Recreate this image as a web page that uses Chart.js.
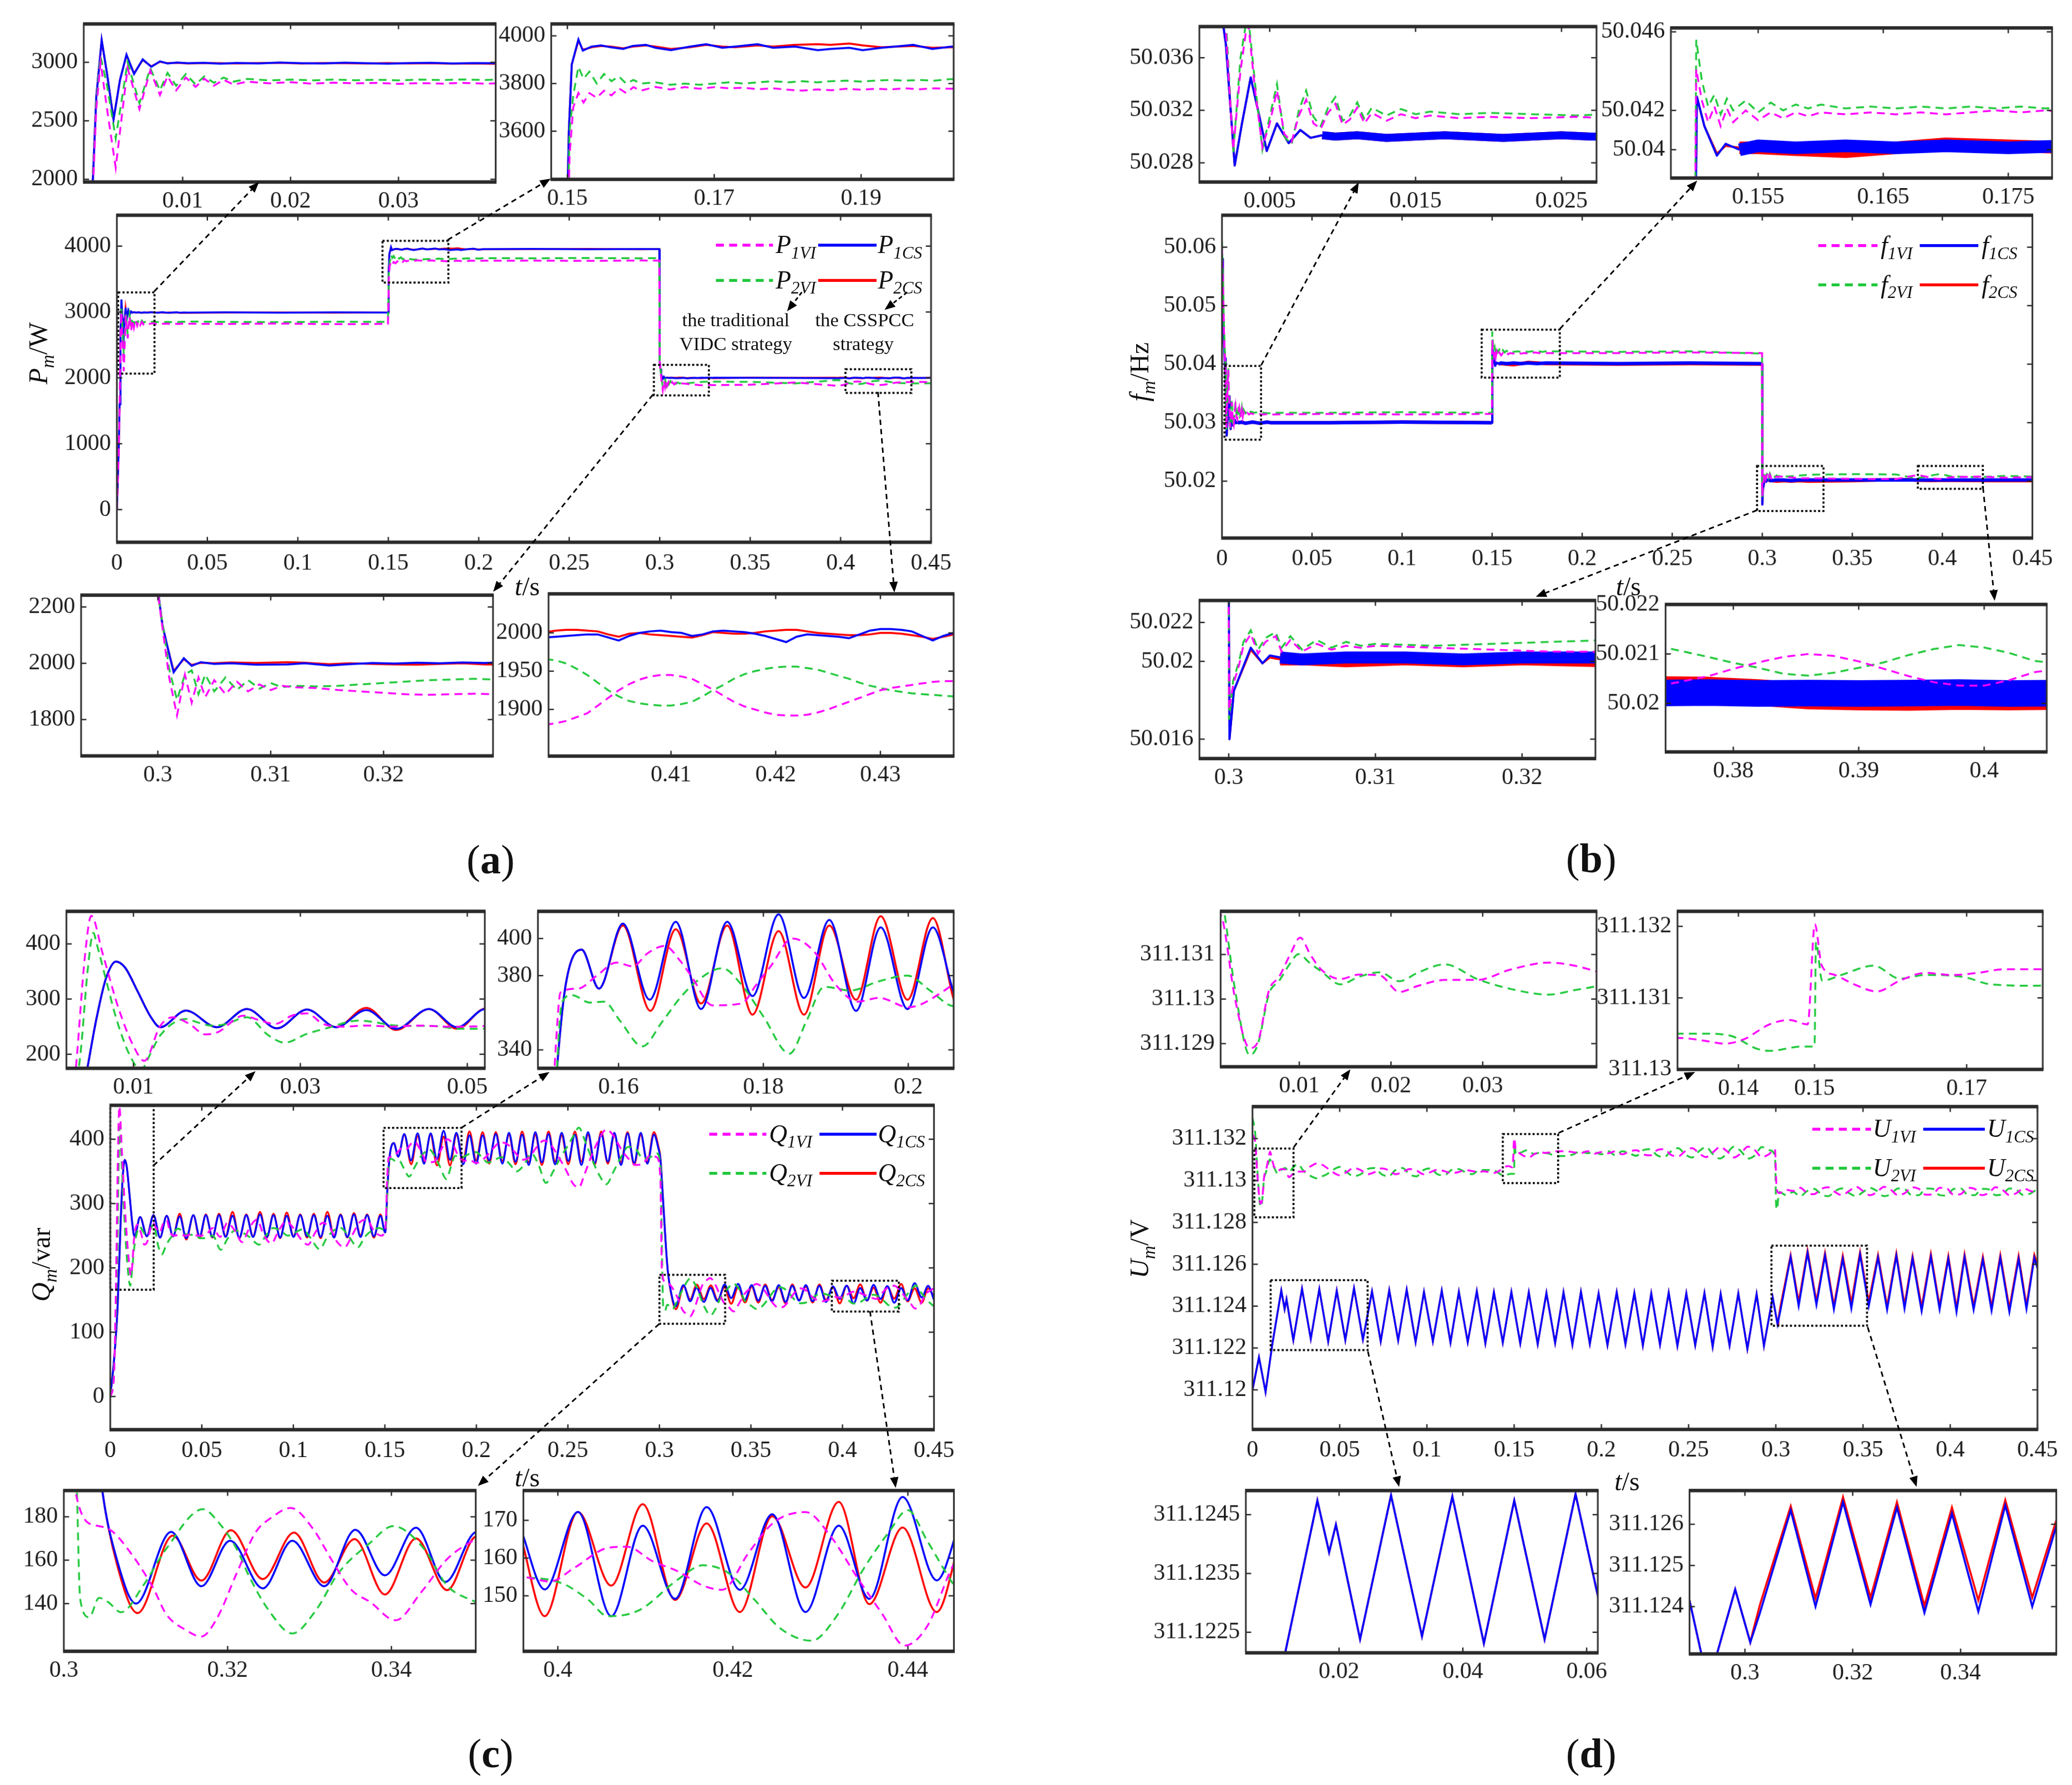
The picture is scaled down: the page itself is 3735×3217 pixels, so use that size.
<!DOCTYPE html>
<html><head><meta charset="utf-8">
<script src="https://cdn.jsdelivr.net/npm/chart.js@4.4.1/dist/chart.umd.min.js"></script>
<style>
html,body{margin:0;padding:0;background:#fff;}
body{width:3735px;height:3217px;overflow:hidden;position:relative;}
#wrap{position:absolute;left:0;top:0;width:1560px;height:1344px;transform-origin:0 0;transform:scale(2.3942);font-family:'Liberation Serif','Times New Roman',serif;color:#111;}
#wrap canvas{position:absolute;}
.ttl{position:absolute;white-space:nowrap;font-size:20px;line-height:1;transform:translate(-50%,-50%);}
.ytl{position:absolute;white-space:nowrap;font-size:20px;line-height:1;transform:translate(-50%,-50%) rotate(-90deg);}
.cap{position:absolute;font-size:31px;line-height:1;transform:translate(-50%,-50%);}
#ov{position:absolute;left:0;top:0;}
</style></head><body><div id="wrap"></div>
<script>
// ---------------- tick labels ----------------
const aXMain=['0','0.05','0.1','0.15','0.2','0.25','0.3','0.35','0.4','0.45'];
const aYMain=['0','1000','2000','3000','4000'];
const aX1=['0.01','0.02','0.03'], aY1=['2000','2500','3000'];
const aX2=['0.15','0.17','0.19'], aY2=['3600','3800','4000'];
const aX3=['0.3','0.31','0.32'], aY3=['1800','2000','2200'];
const aX4=['0.41','0.42','0.43'], aY4=['1900','1950','2000'];
const bYMain=['50.02','50.03','50.04','50.05','50.06'];
const bX1=['0.005','0.015','0.025'], bY1=['50.028','50.032','50.036'];
const bX2=['0.155','0.165','0.175'], bY2=['50.04','50.042','50.046'];
const bX3=['0.3','0.31','0.32'], bY3=['50.016','50.02','50.022'];
const bX4=['0.38','0.39','0.4'], bY4=['50.02','50.021','50.022'];
const cYMain=['0','100','200','300','400'];
const cX1=['0.01','0.03','0.05'], cY1=['200','300','400'];
const cX2=['0.16','0.18','0.2'], cY2=['340','380','400'];
const cX3=['0.3','0.32','0.34'], cY3=['140','160','180'];
const cX4=['0.4','0.42','0.44'], cY4=['150','160','170'];
const dYMain=['311.12','311.122','311.124','311.126','311.128','311.13','311.132'];
const dX1=['0.01','0.02','0.03'], dY1=['311.129','311.13','311.131'];
const dX2=['0.14','0.15','0.17'], dY2=['311.13','311.131','311.132'];
const dX3=['0.02','0.04','0.06'], dY3=['311.1225','311.1235','311.1245'];
const dX4=['0.3','0.32','0.34'], dY4=['311.124','311.125','311.126'];

// ---------------- data: [time in ms, value] ----------------
// (a) active power P (W)
const aP1CS=[[0,0],[1,900],[1.5,1600],[2,2700],[2.5,3190],[3,2900],[3.6,2510],[4.2,2850],[4.8,3065],[5.5,2900],[6.3,3025],[7.1,2962],[7.9,3008],[8.6,2990],[9.5,2998],[10.5,2992],[12,2996],[13.5,2988],[15,2995],[17,2990],[19,2998],[21,2992],[23,2990],[25,2997],[27,2992],[29,2988],[31,2994],[33,2996],[35,2990],[37,2994],[39,2992],
[60,2996],[90,2990],[120,2995],[149.8,2992],
[150.2,3600],[150.6,3880],[151.5,3985],[152.1,3938],[153.3,3955],[154.6,3960],[155.9,3952],[157.6,3945],[158.9,3958],[160.7,3962],[162,3950],[164.1,3940],[166.7,3955],[168.9,3965],[171.1,3950],[172.8,3955],[175.9,3965],[178,3950],[181,3955],[184.1,3940],[185.8,3945],[188.4,3950],[190.2,3940],[192.8,3950],[197.1,3962],[199.7,3945],[202.3,3955],
[230,3958],[260,3952],[290,3956],[299.8,3955],
[300,2260],[300.4,2138],[300.8,2067],[301.4,1968],[302.3,2018],[303,1991],[303.8,2004],[305,1998],[306.5,2000],[308.7,1995],[311.5,1996],[313,2000],[315.2,1992],[317,1997],[319,2001],[321,1999],[323,2002],[325,2000],[327,2003],[329,2001],[330,2003],
[350,2000],[375,1998],[397,1995],
[398,1994],[399,1995],[400,1996],[401,1997],[402,1998],[403,1998],[404,1994],[405,1990],[406,1996],[407,2000],[408,2002],[409,2003],[410,2001],[411,2000],[412,1996],[413,1998],[414,2002],[415,2003],[416,2002],[417,2001],[418,1999],[419,1996],[420,1992],[421,1988],[422,1995],[423,1998],[424,1997],[425,1996],[426,1995],[427,1993],[428,1998],[429,2003],[430,2005],[431,2005],[432,2004],[433,2002],[434,1996],[435,1990],[436,1996],[437,2000],[445,1998],[450,2000]];
const aP2CS=[[0,0],[1,900],[1.5,1600],[2,2700],[2.5,3185],[3,2900],[3.6,2515],[4.2,2850],[4.8,3060],[5.5,2905],[6.3,3020],[7.1,2965],[7.9,3005],[8.6,2992],[9.5,2996],[10.5,2990],[12,2994],[13.5,2992],[15,2990],[17,2994],[19,2996],[21,2990],[23,2994],[25,2992],[27,2990],[29,2994],[31,2990],[33,2993],[35,2988],[37,2990],[39,2987],
[60,2992],[90,2994],[120,2990],[149.8,2993],
[150.2,3600],[150.6,3880],[151.5,3980],[152.1,3942],[153.3,3952],[154.6,3958],[155.9,3955],[157.6,3948],[158.9,3955],[160.7,3960],[162,3955],[164.1,3945],[166.7,3952],[168.9,3962],[171.1,3955],[172.8,3952],[175.9,3960],[178,3955],[181,3962],[184.1,3965],[185.8,3962],[188.4,3968],[190.2,3960],[192.8,3952],[197.1,3958],[199.7,3950],[202.3,3952],
[230,3955],[260,3958],[290,3953],[299.8,3956],
[300,2260],[300.4,2138],[300.8,2067],[301.4,1972],[302.3,2015],[303,1994],[303.8,2002],[305,2000],[306.5,2003],[308.7,2001],[311.5,2004],[313,2002],[315.2,1997],[317,2000],[319,1998],[321,1996],[323,1995],[325,1998],[327,2000],[329,1996],[330,1995],
[350,2002],[375,2000],[397,2002],
[398,2001],[399,2003],[400,2004],[401,2004],[402,2003],[403,2002],[404,1998],[405,1995],[406,1999],[407,2000],[408,1998],[409,1997],[410,1996],[411,1995],[412,1994],[413,1997],[414,2001],[415,2000],[416,1999],[417,1999],[418,2000],[419,2002],[420,2003],[421,2004],[422,2004],[423,2002],[424,2000],[425,1999],[426,1998],[427,1997],[428,1997],[429,1998],[430,2000],[431,2000],[432,1999],[433,1997],[434,1995],[435,1992],[436,1995],[437,1998],[445,1999],[450,2000]];
const aP1VI=[[0,0],[1,800],[1.5,1500],[2,2600],[2.4,3000],[3,2600],[3.8,2100],[4.9,2950],[6,2600],[7,2930],[7.9,2720],[8.6,2880],[9.4,2760],[10.3,2870],[11.2,2790],[12,2860],[12.9,2800],[13.8,2850],[14.7,2810],[16,2835],[18,2820],[20,2830],[22,2818],[24,2826],[26,2820],[28,2824],[30,2816],[32,2822],[34,2818],[36,2824],[38,2818],[40,2822],
[60,2818],[90,2825],[120,2815],[149.8,2820],
[150.3,3500],[150.8,3700],[151.5,3760],[152.2,3720],[153,3760],[154,3740],[155,3770],[156,3750],[157,3780],[158,3760],[159,3785],[160,3770],[162,3786],[164,3775],[166,3785],[168,3778],[170,3785],[172,3780],[174,3782],[176,3776],[178,3780],[180,3774],[182,3770],[184,3775],[186,3772],[188,3778],[190,3774],[192,3778],[194,3775],[196,3780],[198,3776],[200,3780],[202,3778],
[230,3780],[260,3776],[290,3782],[299.8,3780],
[300,2250],[300.5,2100],[301,1950],[301.7,1815],[302.4,1960],[303,1860],[303.6,1950],[304.2,1880],[305,1940],[306,1890],[307,1935],[308,1900],[309,1925],[310,1905],[311,1920],[312,1915],[314,1912],[316,1905],[318,1900],[320,1895],[322,1890],[324,1888],[326,1890],[328,1892],[330,1890],
[350,1895],[375,1930],[397,1882],
[398,1880],[399,1882],[400,1885],[401,1890],[402,1895],[403,1905],[404,1915],[405,1925],[406,1933],[407,1939],[408,1943],[409,1945],[410,1945],[411,1943],[412,1940],[413,1933],[414,1926],[415,1918],[416,1910],[417,1904],[418,1900],[419,1896],[420,1893],[421,1892],[422,1892],[423,1893],[424,1896],[425,1900],[426,1905],[427,1910],[428,1915],[429,1920],[430,1925],[431,1928],[432,1930],[433,1932],[434,1934],[435,1936],[436,1937],[437,1937],[445,1938],[450,1935]];
const aP2VI=[[0,0],[1,850],[1.5,1550],[2,2650],[2.4,3050],[3,2800],[3.8,2350],[4.9,3000],[6,2650],[7,2950],[7.9,2760],[8.6,2910],[9.4,2800],[10.3,2900],[11.2,2810],[12,2880],[12.9,2825],[13.8,2870],[14.7,2835],[16,2858],[18,2845],[20,2852],[22,2846],[24,2852],[26,2847],[28,2851],[30,2846],[32,2852],[34,2848],[36,2853],[38,2849],[40,2855],
[60,2850],[90,2846],[120,2852],[149.8,2850],
[150.3,3600],[150.8,3750],[151.5,3870],[152.2,3820],[153,3850],[154,3800],[155,3840],[156,3810],[157,3830],[158,3800],[159,3815],[160,3800],[162,3805],[164,3795],[166,3800],[168,3795],[170,3800],[172,3805],[174,3800],[176,3805],[178,3810],[180,3805],[182,3810],[184,3805],[186,3810],[188,3812],[190,3808],[192,3812],[194,3815],[196,3812],[198,3815],[200,3812],[202,3818],
[230,3815],[260,3820],[290,3815],[299.8,3818],
[300,2250],[300.5,2120],[301,1980],[301.7,1870],[302.4,1960],[303,1975],[303.6,1890],[304.2,1960],[305,1900],[306,1950],[307,1905],[308,1940],[309,1910],[310,1930],[311,1915],[312,1920],[314,1918],[316,1920],[318,1925],[320,1930],[322,1935],[324,1940],[326,1942],[328,1945],[330,1942],
[350,1940],[375,1915],[397,1965],
[398,1966],[399,1964],[400,1960],[401,1953],[402,1945],[403,1935],[404,1925],[405,1917],[406,1911],[407,1908],[408,1906],[409,1905],[410,1905],[411,1907],[412,1910],[413,1917],[414,1925],[415,1932],[416,1940],[417,1946],[418,1950],[419,1953],[420,1955],[421,1956],[422,1956],[423,1954],[424,1952],[425,1948],[426,1944],[427,1940],[428,1935],[429,1931],[430,1928],[431,1925],[432,1923],[433,1921],[434,1920],[435,1919],[436,1918],[437,1917],[445,1916],[450,1918]];

// (b) frequency f (Hz)
const bf1CS=[[0,50.058],[0.5,50.052],[1,50.045],[1.5,50.041],[2,50.037],[2.6,50.0278],[3.1,50.031],[3.7,50.0345],[4.2,50.032],[4.8,50.0289],[5.5,50.031],[6.3,50.0295],[7.1,50.0305],[7.8,50.0299],[8.6,50.0301],[9.5,50.03],[11,50.0301],[13,50.0299],[15,50.03],[17,50.0301],[19,50.03],[21,50.0299],[23,50.03],[25,50.0301],[27,50.03],
[60,50.03],[100,50.0301],[149.9,50.03],
[150.1,50.0427],[150.7,50.0412],[151.7,50.0397],[152.4,50.0403],[153.5,50.04],[155,50.0402],[158,50.0401],[162,50.0402],[166,50.0401],[170,50.0402],[175,50.0401],[180,50.0402],
[220,50.0401],[260,50.0402],[299.9,50.0401],
[300.05,50.016],[300.35,50.0185],[301.5,50.0207],[302.3,50.0199],[302.8,50.0203],[303.5,50.0202],[305,50.0201],[308,50.0202],[312,50.0202],[316,50.0201],[320,50.0202],[326,50.0202],
[350,50.0202],[374,50.02021],[378,50.02022],[382,50.0202],[386,50.02021],[390,50.0202],[394,50.02021],[398,50.02022],[402,50.0202],[406,50.02021],[430,50.0202],[450,50.0202]];
const bf2CS=[[0,50.058],[0.5,50.052],[1,50.045],[1.5,50.041],[2,50.037],[2.6,50.0278],[3.1,50.031],[3.7,50.0345],[4.2,50.032],[4.8,50.0289],[5.5,50.031],[6.3,50.0295],[7.1,50.0305],[7.8,50.0299],[8.6,50.0301],[9.5,50.03],[11,50.0301],[13,50.0299],[15,50.03],[17,50.0301],[19,50.03],[21,50.0299],[23,50.03],[25,50.0301],[27,50.03],
[60,50.03],[100,50.0301],[149.9,50.03],
[150.1,50.0427],[150.7,50.0412],[151.7,50.0398],[152.4,50.0402],[153.5,50.0401],[155,50.0401],[158,50.04],[162,50.0399],[166,50.0401],[170,50.0403],[175,50.0402],[180,50.0401],
[220,50.04],[260,50.0401],[299.9,50.04],
[300.05,50.016],[300.35,50.0185],[301.5,50.0206],[302.3,50.0199],[302.8,50.0202],[303.5,50.0201],[305,50.0201],[308,50.02],[312,50.0201],[316,50.02],[320,50.0201],[326,50.02],
[350,50.0201],[374,50.02028],[378,50.02027],[382,50.02022],[386,50.02015],[390,50.02013],[394,50.02012],[398,50.02014],[402,50.02013],[406,50.02014],[430,50.0201],[450,50.0201]];
const bf2VI=[[0,50.061],[0.5,50.055],[1,50.048],[1.5,50.043],[2,50.039],[2.5,50.0288],[3,50.036],[3.5,50.0395],[4,50.034],[4.5,50.029],[5,50.0315],[5.5,50.034],[6,50.03],[6.5,50.0294],[7,50.032],[7.5,50.0335],[8,50.0315],[8.5,50.0308],[9,50.0322],[9.5,50.033],[10,50.0312],[10.5,50.0316],[11,50.0326],[11.5,50.0313],[12,50.0322],[13,50.0316],[14,50.0321],[15,50.0317],[16,50.0319],[18,50.0317],[20,50.0318],[23,50.0317],[26,50.0316],[28,50.0317],
[60,50.0317],[100,50.0318],[149.9,50.0317],
[150.05,50.0456],[150.5,50.0435],[151,50.0422],[151.5,50.0428],[152,50.0418],[152.5,50.0426],[153,50.042],[154,50.0425],[155,50.0419],[156,50.0424],[157,50.042],[158,50.0423],[159,50.0421],[160,50.0423],[162,50.0421],[164,50.0422],[166,50.0421],[168,50.0422],[170,50.0421],[172,50.0422],[174,50.0421],[176,50.0422],[178,50.0421],[180,50.0422],
[220,50.0421],[260,50.0422],[299.9,50.0418],
[300.02,50.017],[300.3,50.019],[300.7,50.02],[301,50.021],[301.5,50.0216],[302,50.0206],[302.5,50.0212],[303.2,50.0215],[303.6,50.0207],[304.2,50.0213],[305,50.0206],[306,50.0211],[307,50.0207],[308,50.021],[309,50.0208],[310,50.0209],[314,50.0208],[318,50.0209],[322,50.021],[326,50.0211],
[350,50.0212],[374,50.02116],[376,50.02105],[378,50.02094],[380,50.02082],[382,50.02072],[384,50.0206],[386,50.02056],[388,50.02062],[390,50.02072],[392,50.02083],[394,50.02098],[396,50.0211],[398,50.02118],[400,50.02113],[402,50.02102],[404,50.02086],[406,50.0208],[420,50.0207],[435,50.0209],[450,50.0208]];
const bf1VI=[[0,50.06],[0.5,50.054],[1,50.047],[1.5,50.042],[2,50.038],[2.5,50.029],[3,50.035],[3.5,50.039],[4,50.0335],[4.5,50.0292],[5,50.031],[5.5,50.0335],[6,50.0302],[6.5,50.0296],[7,50.0316],[7.5,50.0328],[8,50.031],[8.5,50.0306],[9,50.0318],[9.5,50.0325],[10,50.0309],[10.5,50.0313],[11,50.0322],[11.5,50.031],[12,50.0318],[13,50.0312],[14,50.0317],[15,50.0314],[16,50.0316],[18,50.0314],[20,50.0315],[23,50.0314],[26,50.0315],[28,50.0314],
[60,50.0315],[100,50.0314],[149.9,50.0315],
[150.05,50.0441],[150.5,50.0425],[151,50.0414],[151.5,50.0422],[152,50.0412],[152.5,50.0421],[153,50.0414],[154,50.042],[155,50.0415],[156,50.0419],[157,50.0416],[158,50.0419],[159,50.0417],[160,50.0419],[162,50.0418],[164,50.0419],[166,50.0418],[168,50.0419],[170,50.0418],[172,50.0419],[174,50.042],[176,50.0419],[178,50.042],[180,50.0419],
[220,50.0419],[260,50.042],[299.9,50.0419],
[300.02,50.0175],[300.3,50.0188],[300.7,50.0198],[301,50.0208],[301.5,50.0214],[302,50.0204],[302.5,50.021],[303.2,50.0213],[303.6,50.0205],[304.2,50.0211],[305,50.0205],[306,50.0209],[307,50.0206],[308,50.0208],[309,50.0207],[310,50.0208],[314,50.0207],[318,50.0206],[322,50.0205],[326,50.0205],
[350,50.0204],[374,50.02035],[376,50.02045],[378,50.02055],[380,50.0207],[382,50.02083],[384,50.02094],[386,50.021],[388,50.02096],[390,50.02085],[392,50.0207],[394,50.02055],[396,50.02043],[398,50.02036],[400,50.02036],[402,50.02047],[404,50.02063],[406,50.0207],[420,50.0208],[435,50.0206],[450,50.0207]];

// (c) reactive power Q (var)
const cQ1CS=[[0,0],[2,55],[4,140],[5.6,267],[6.7,337],[7.9,368],[9,357],[10.5,314],[12.1,267],[13.2,249],[16.3,279],[20,249],[23.6,282],[27.2,247],[30.8,281],[34.3,249],[37.9,280],[41.5,246],[45.4,282],[48.8,249],[52.2,282],[55.8,248],[59.4,282],[63,248],[66.8,281],[70.5,247],[74.3,282],[78,248],[81.8,283],[85.5,248],[89.2,282],[92.8,247],[96.4,281],[100.1,248],[103.8,282],[107.5,249],[111.2,282],[114.9,248],[118.6,281],[122.2,247],[125.8,282],[129.5,248],[133.1,283],[136.7,248],[140.3,282],[144,249],[147.6,281],[150.2,255],
[151.5,330],[152.7,375],[154.9,394],[157.3,373],[160.6,408],[164.3,367],[167.9,409],[171.4,362],[175,409],[178.5,369],[182.1,413],[185.6,368],[189.1,410],[192.8,361],[196.2,406],[199.9,362],[203.4,406],[207,367],[210.6,408],[214.2,362],[217.8,410],[221.4,365],[225,407],[228.6,360],[232.2,411],[235.8,364],[239.4,408],[243,361],[246.6,410],[250.2,366],[253.8,407],[257.4,360],[261,411],[264.6,363],[268.2,408],[271.8,365],[275.4,410],[279,360],[282.6,409],[286.2,363],[289.8,410],[293.4,362],[297,407],[299.5,385],
[300.5,370],[302,305],[303.5,235],[304.7,192],[306.5,160],[308.8,140],[313.1,173],[316.8,148],[320.3,169],[324.3,147],[327.9,169],[331.8,148],[335.6,174],[339.2,153],[343,175],[346.6,150],[350.4,173],[354,149],[357.8,172],[361.5,148],[365.2,173],[368.9,147],[372.6,172],[376.3,149],[380,173],[383.7,148],[387.4,172],[391,147],[394.8,171],[398.5,151.7],[402.3,172.2],[406.1,144.6],[409.7,168.6],[413.4,149.2],[417,173.5],[420.8,151.6],[424.5,171.6],[428.3,145.7],[432.1,168.6],[435.6,149.2],[439.4,176.2],[443.3,154.1],[446.8,172],[450,150]];
const cQ2CS=[[0,0],[2,55],[4,140],[5.6,267],[6.7,337],[7.9,368],[9,357],[10.5,314],[12.1,267],[13.2,249],[16.3,279],[20,249],[23.6,282],[27.2,247],[30.8,281],[34.3,249],[37.9,284],[41.5,244],[45.4,282],[48.8,246],[52.2,283],[55.8,247],[59.4,284],[63,249],[66.8,287],[70.5,246],[74.3,283],[78,249],[81.8,287],[85.5,247],[89.2,284],[92.8,246],[96.4,286],[100.1,249],[103.8,283],[107.5,247],[111.2,284],[114.9,246],[118.6,287],[122.2,249],[125.8,283],[129.5,247],[133.1,285],[136.7,250],[140.3,283],[144,247],[147.6,283],[150.2,255],
[151.5,330],[152.7,375],[154.9,394],[157.3,373],[160.6,407],[164.4,361],[167.9,405],[171.4,365],[175,407],[178.5,359],[182.1,404],[185.6,359],[189.1,407],[192.8,367],[196.2,412],[199.9,367],[203.4,411],[207,362],[210.6,411],[214.2,366],[217.8,407],[221.4,361],[225,412],[228.6,364],[232.2,407],[235.8,360],[239.4,412],[243,365],[246.6,406],[250.2,361],[253.8,412],[257.4,365],[261,407],[264.6,360],[268.2,412],[271.8,362],[275.4,407],[279,364],[282.6,411],[286.2,360],[289.8,407],[293.4,365],[297,411],[299.5,388],
[300.5,372],[302,305],[303.5,235],[304.7,192],[306.5,158],[309,135.6],[313.3,171.3],[316.8,150.6],[320.4,173.8],[324.3,151.3],[328.1,172.7],[331.8,149.7],[335.5,169.7],[339.2,144.2],[343,170],[346.8,146.2],[350.4,171],[354,146],[357.8,174],[361.5,150],[365.2,170],[368.9,145],[372.6,174],[376.3,150],[380,171],[383.7,146],[387.4,174],[391,150],[394.8,170],[398.5,144.6],[402.3,172.2],[406.1,152.7],[409.7,174.3],[413.4,148.9],[417,169.2],[420.8,145.7],[424.5,171.1],[428.3,152.2],[432.1,174.9],[435.6,147.8],[439.4,168.1],[443.3,145.7],[446.8,168],[450,155]];
const cQ1VI=[[0,0],[2,30],[3.1,175],[4.2,380],[4.95,451],[6.3,383],[8.2,284],[10,215],[11.3,188],[13.2,251],[14.7,267],[16.7,255],[18.6,236],[20.1,240],[23.2,270],[25,262],[27,255],[29,270],[30.8,274],[32.7,255],[35,250],[38,252],[41,250],[44,252],[48,250],[52,251],
[56,262],[60,248],[64,270],[68,258],[72,240],[76,262],[80,275],[84,250],[88,238],[92,258],[96,272],[100,262],[104,245],[108,236],[112,255],[116,270],[120,262],[124,240],[128,232],[132,250],[136,270],[140,275],[144,258],[148,250],[150.3,262],
[151.3,340],[152,371],[154.4,373],[157,380],[159.7,387],[162,385],[164,392],[166.4,396],[168.5,388],[170,380],[173,364],[177,365],[179,375],[181,385],[184,400],[187,393],[190,375],[193,366],[196,368],[200,363],[205,372],
[209,385],[213,395],[217,392],[221,380],[225,368],[229,372],[233,388],[237,398],[241,390],[245,372],[249,352],[253,330],[256,325],[259,345],[263,375],[267,400],[271,415],[275,405],[279,385],[283,370],[287,360],[291,362],[295,375],[298.5,372],
[300.5,340],[301.4,192],[303.9,176],[305.8,173.6],[307.8,165.2],[310.9,147.3],[312.5,135.1],[314.8,128],[316.8,124.8],[318.7,133.2],[321.1,153.9],[323.4,172.7],[325.5,180],[327.7,184.1],[330.4,174.6],[332.8,159.5],[335.1,146.4],[337.4,140.7],[340.5,132.3],[343.7,145.5],[346.8,160.5],[349.9,168.9],
[353,175],[356,170],[359,158],[362,145],[365,138],[368,140],[371,150],[374,162],[377,168],[380,165],[383,156],[386,150],[389,148],[392,150],[395,154],
[396.1,154.9],[399.1,153.8],[402,157.6],[405.7,162.7],[407.9,163],[410.8,159.2],[413.7,156.5],[416.6,152.7],[418.8,151.6],[421.8,161.4],[424.7,169.5],[428.3,172.2],[431.2,165.7],[434.2,154.9],[437.1,145.1],[439.6,136.8],[442.2,141.9],[445.3,158.6],[448,165],[450,168]];
const cQ2VI=[[0,0],[2,40],[3.65,200],[4.5,350],[5.2,420],[5.6,400],[6.8,330],[7.9,267],[9.5,200],[10.9,172],[12,200],[13.2,234],[16.3,264],[17,261],[19.3,252],[20.9,254],[23.6,267],[26.2,234],[28.1,221],[30.8,237],[33.1,247],[37,261],[38.5,259],[41.5,252],[46.1,251],[49.2,246],[52,246],
[56,250],[60.3,228],[64,245],[68,258],[72,255],[76,248],[81.3,236],[85,250],[89,262],[93,258],[97,250],[101,255],[105,260],[109,248],[114.4,229],[118,245],[122,258],[126,262],[130,250],[135.3,232],[139,248],[143,258],[147,262],[150.3,258],
[152.2,365.5],[153.6,369.5],[156,365.5],[158,366],[160.2,355.7],[163.3,341.9],[166,355],[168.5,368],[170.8,377],[174.3,384],[177,375],[180,358],[183.6,338],[186,356],[188.4,374],[192,372],[196,377],[199.9,380],[203,372],[206.3,363.6],
[210,368],[214,372],[218,362],[222,350],[226,360],[230,378],[234,360],[238,332],[242,350],[246,372],[250,390],[253,405],[256,418],[259,400],[263,370],[267,345],[271,330],[275,350],[279,372],[283,388],[287,385],[291,370],[295,372],[298.5,378],
[300.5,360],[301.6,192],[302,142],[303.1,133.7],[304.3,142.6],[305.4,140.7],[307,136],[309.7,148.3],[312.5,165.2],[317,183.5],[318.7,178.3],[321.1,165.2],[322.7,152],[325,137],[327.9,126.2],[330.8,137],[333.5,153.9],[337.4,168],[340.2,175.7],[344,165.2],[346.8,148.3],[350.3,140.7],
[353,136],[356,140],[359,150],[362,162],[365,170],[368,168],[371,160],[374,150],[377,145],[380,146],[383,152],[386,158],[389,160],[392,158],[395,155],
[396.1,154.9],[400.6,153.2],[403.5,148.9],[405.7,144.6],[409.3,146.2],[413.7,154.3],[416.6,158.1],[419.6,155.9],[422.5,148.9],[425.4,141.4],[429,138.1],[432,145.1],[434.9,157],[437.8,166.8],[440,172.7],[442.2,164.6],[445.3,152.7],[448,145],[450,140]];

// (d) voltage U (V)
const dCSseg1=[[0,311.12],[3.7,311.12156],[7.5,311.1199],[11.3,311.12215],[16.5,311.12474],[18.4,311.12386],[19.5,311.12433],[23.4,311.12238],[28.4,311.12483],[33.4,311.12243],[38.3,311.12481],[43.4,311.12231],[48.3,311.12474],[53.2,311.12238],[58.2,311.12485],[63.3,311.1224],[68.5,311.1247],[73.5,311.12232],[78.4,311.12476],[83.5,311.12236],[88.4,311.12478],[93.5,311.12228],[98.3,311.12468],[103.4,311.12232],[108.5,311.12474],[113.5,311.12226],[118.3,311.12468],[123.4,311.12228],[128.6,311.12471],[133.5,311.12222],[138.4,311.12466],[143.5,311.12226],[148.4,311.12468],[153.5,311.12222],[158.4,311.12466],[163.5,311.12218],[168.5,311.12463],[173.5,311.12224],[178.3,311.12466],[183.4,311.12216],[188.3,311.12468],[193.4,311.1222],[198.4,311.12461],[203.5,311.12214],[208.8,311.12466],[213.8,311.12218],[218.9,311.12463],[223.8,311.12212],[228.6,311.12461],[233.6,311.12216],[238.6,311.12464],[243.6,311.1221],[248.7,311.12461],[253.8,311.12214],[259.1,311.12463],[263.8,311.12206],[268.4,311.12458],[273.5,311.12212],[278.5,311.12461],[283.7,311.12196],[289,311.12458],[293.2,311.1221],[298.2,311.12442],[301,311.12313]];
const dU1CSseg2=[[302.8,311.12385],[308.5,311.12634],[313.1,311.124],[318.2,311.12654],[323.3,311.12405],[328.2,311.12641],[333.3,311.12385],[338.4,311.12626],[343.3,311.12388],[348.3,311.12646],[353.3,311.124],[358.6,311.12632],[363.8,311.12382],[369.1,311.1264],[373.8,311.12388],[378.4,311.12628],[383.6,311.12376],[388.9,311.12636],[393.9,311.12384],[398.9,311.12626],[403.6,311.12372],[408.2,311.12634],[413.4,311.12382],[418.7,311.12622],[423.7,311.12378],[428.7,311.1263],[433.9,311.12372],[439.2,311.12625],[443.7,311.12386],[448.2,311.1263],[450,311.1258]];
const dU2CSseg2=[[301.5,311.1234],[302.8,311.12405],[308.5,311.12644],[313.1,311.1242],[318.2,311.12666],[323.3,311.12422],[328.2,311.12654],[333.3,311.12402],[338.4,311.12641],[343.3,311.12415],[348.3,311.12659],[353.3,311.12422],[358.6,311.12645],[363.8,311.124],[369.1,311.12652],[373.8,311.12405],[378.4,311.1264],[383.6,311.12395],[388.9,311.1265],[393.9,311.124],[398.9,311.1264],[403.6,311.1239],[408.2,311.12648],[413.4,311.124],[418.7,311.12636],[423.7,311.12395],[428.7,311.12644],[433.9,311.1239],[439.2,311.1264],[443.7,311.12402],[448.2,311.12645],[450,311.126]];
const dU1CS=dCSseg1.concat(dU1CSseg2);
const dU2CS=dCSseg1.concat(dU2CSseg2);
const dU1VI=[[0,311.1322],[1.6,311.1318],[3,311.13],[4.6,311.1289],[5.5,311.12905],[6.7,311.1302],[7.8,311.1305],[9,311.131],[10.1,311.13138],[11.2,311.131],[12.4,311.13066],[14.5,311.13045],[16.5,311.13055],[18.8,311.13053],[20.9,311.13016],[23,311.1303],[25.9,311.13043],[29.4,311.13043],[33,311.13066],[37.2,311.13082],[40,311.13075],[42.4,311.13062],
[46,311.1304],[50,311.13025],[54,311.1304],[58,311.1306],[62,311.1305],[66,311.1303],[70,311.1304],[74,311.13058],[78,311.1305],[82,311.1303],[86,311.1304],[90,311.13055],[94,311.13048],[98,311.1303],[102,311.1304],[106,311.13052],[110,311.13045],[114,311.13035],[118,311.1304],[122,311.1305],[126,311.13045],[130,311.1304],
[132.2,311.13044],[135.6,311.1304],[138.1,311.13036],[140.7,311.13042],[144.1,311.13063],[146.7,311.13069],[149.1,311.13063],[150.05,311.13203],[150.96,311.13145],[152.7,311.13132],[155.2,311.13119],[158.2,311.13109],[161.2,311.13124],[164.6,311.13135],[168,311.13132],[171.5,311.13135],[174.9,311.1314],[179.6,311.1314],
[184,311.13135],[188,311.1313],[192,311.1314],[196,311.13128],[200,311.13136],[204,311.1313],[208,311.1314],[212,311.13125],[216,311.13138],[220,311.13145],[224,311.13125],[228,311.1312],[232,311.13145],[236,311.1315],[240,311.13122],[244,311.13115],[248,311.1314],[252,311.13155],[256,311.1313],[260,311.13112],[264,311.13135],[268,311.1316],[272,311.1314],[276,311.1311],[280,311.1313],[284,311.13162],[288,311.13145],[292,311.13112],[296,311.13125],[299.5,311.1315],
[300.5,311.1296],[302,311.1294],[306,311.12955],[310,311.1295],[314,311.12965],[318,311.1294],[322,311.12935],[326,311.1296],[330,311.12968],[334,311.12945],[338,311.1293],[342,311.1295],[346,311.1297],[350,311.1295],[354,311.1293],[358,311.12945],[362,311.1297],[366,311.12955],[370,311.1293],[374,311.1294],[378,311.12968],[382,311.1296],[386,311.12932],[390,311.12935],[394,311.12965],[398,311.12962],[402,311.12932],[406,311.12935],[410,311.12965],[414,311.1296],[418,311.1293],[422,311.1294],[426,311.12968],[430,311.12955],[434,311.1293],[438,311.1294],[442,311.12962],[446,311.1295],[450,311.1294]];
const dU2VI=[[0,311.133],[1.6,311.1322],[3,311.1302],[4.6,311.12874],[5.5,311.129],[6.7,311.13012],[7.8,311.13041],[9,311.1308],[9.9,311.13101],[11.2,311.1308],[12.4,311.13062],[14.5,311.13033],[16.5,311.1305],[18.8,311.1306],[20.9,311.1304],[23,311.1306],[25.9,311.13078],[29.4,311.13045],[33,311.13023],[37.2,311.1301],[40,311.1302],[42.4,311.13029],
[46,311.1305],[50,311.13065],[54,311.1304],[58,311.1302],[62,311.1303],[66,311.13055],[70,311.1306],[74,311.1303],[78,311.1302],[82,311.1305],[86,311.1306],[90,311.1303],[94,311.1302],[98,311.1305],[102,311.13058],[106,311.1303],[110,311.13025],[114,311.1305],[118,311.13055],[122,311.1304],[126,311.1303],[130,311.1305],
[132.2,311.1305],[135.6,311.1305],[139,311.13047],[142.4,311.13029],[144.1,311.13026],[148.4,311.13032],[150,311.13032],[150.2,311.13178],[151,311.13124],[153.5,311.13132],[157.8,311.13145],[161.2,311.13127],[164.6,311.13132],[169.7,311.13129],[173.1,311.13119],[179.1,311.13117],
[184,311.13125],[188,311.1314],[192,311.1313],[196,311.13135],[200,311.13125],[204,311.1314],[208,311.1312],[212,311.1314],[216,311.1313],[220,311.13118],[224,311.13145],[228,311.1315],[232,311.1312],[236,311.13112],[240,311.1314],[244,311.13155],[248,311.13125],[252,311.1311],[256,311.1314],[260,311.1316],[264,311.13125],[268,311.13105],[272,311.1313],[276,311.13162],[280,311.1314],[284,311.13105],[288,311.1312],[292,311.1316],[296,311.13145],[299.5,311.1312],
[300.2,311.1288],[300.6,311.12862],[301.5,311.1292],[302,311.12945],[306,311.1293],[310,311.12945],[314,311.12925],[318,311.1295],[322,311.1296],[326,311.12935],[330,311.12925],[334,311.1295],[338,311.12962],[342,311.1294],[346,311.12925],[350,311.12945],[354,311.12965],[358,311.1295],[362,311.12925],[366,311.12935],[370,311.12962],[374,311.12958],[378,311.1293],[382,311.1293],[386,311.12962],[390,311.1296],[394,311.1293],[398,311.12928],[402,311.1296],[406,311.12962],[410,311.12932],[414,311.1293],[418,311.1296],[422,311.12958],[426,311.1293],[430,311.12935],[434,311.12962],[438,311.12955],[442,311.1293],[446,311.12938],[450,311.1296]];

// zoom-region boxes drawn on the main plots: [t0 ms, t1 ms, yLow, yHigh]
const aBoxes=[[0.7,20.8,2065,3298],[146.8,183.2,3447,4080],[296.8,327.2,1733,2198],[402.7,439.1,1771,2130]];
const bBoxes=[[1.4,21.7,50.0271,50.0397],[144.2,187.6,50.0377,50.0459],[297.1,334,50.0149,50.0226],[386.4,422.5,50.0187,50.0226]];
const cBoxes=[[0,23.7,165.9,452],[149.3,191.9,324,417.6],[300,335.9,113,189],[394.2,430.8,132,180]];
const dBoxes=[[1.1,23.5,311.12824,311.13153],[143.5,175.2,311.12988,311.13222],[10.4,66,311.1219,311.12524],[297.5,352.3,311.12306,311.12689]];

// ---------------- rendering ----------------
Chart.defaults.font.family="'Liberation Serif','Times New Roman',serif";
Chart.defaults.font.size=17.5;
Chart.defaults.color='#1a1a1a';
const MAG='#ff00ff', GRN='#1fc83a', BLU='#0000ff', RED='#ff0000';

const framePlugin={id:'frame',afterDatasetsDraw(chart,args,opts){
  const ctx=chart.ctx, a=chart.chartArea, xs=chart.scales.x, ys=chart.scales.y;
  ctx.save();
  ctx.strokeStyle='#222'; ctx.lineWidth=1;
  const tl=4;
  const seg=(x1,y1,x2,y2)=>{ctx.beginPath();ctx.moveTo(x1,y1);ctx.lineTo(x2,y2);ctx.stroke();};
  xs.ticks.forEach(t=>{const p=xs.getPixelForValue(t.value); seg(p,a.bottom,p,a.bottom-tl); seg(p,a.top,p,a.top+tl);});
  ys.ticks.forEach(t=>{const p=ys.getPixelForValue(t.value); seg(a.left,p,a.left+tl,p); seg(a.right,p,a.right-tl,p);});
  (opts.boxes||[]).forEach(b=>{
    const x1=xs.getPixelForValue(b[0]/1000), x2=xs.getPixelForValue(b[1]/1000);
    const y1=ys.getPixelForValue(b[3]), y2=ys.getPixelForValue(b[2]);
    ctx.setLineDash([1.6,1.6]); ctx.lineWidth=1.5; ctx.strokeStyle='#000';
    ctx.strokeRect(x1,y1,x2-x1,y2-y1);
  });
  ctx.setLineDash([]);
  ctx.strokeStyle='#333'; ctx.lineWidth=1.3;
  seg(a.left,a.top,a.left,a.bottom); seg(a.right,a.top,a.right,a.bottom);
  ctx.strokeStyle='#2a2a2a'; ctx.lineWidth=2.6;
  seg(a.left-0.6,a.top,a.right+0.6,a.top); seg(a.left-0.6,a.bottom,a.right+0.6,a.bottom);
  ctx.restore();
}};

function pts(arr){return arr.map(p=>({x:p[0]/1000,y:p[1]}));}
function inTransient(ms){return ms<8||(ms>=149.8&&ms<153.5)||(ms>=299.8&&ms<303.5);}

const series={
 a:[[aP1VI,MAG,true],[aP2VI,GRN,true],[aP1CS,BLU,false],[aP2CS,RED,false]],
 b:[[bf1VI,MAG,true],[bf2VI,GRN,true],[bf1CS,BLU,false],[bf2CS,RED,false]],
 c:[[cQ1VI,MAG,true],[cQ2VI,GRN,true],[cQ1CS,BLU,false],[cQ2CS,RED,false]],
 d:[[dU1VI,MAG,true],[dU2VI,GRN,true],[dU1CS,BLU,false],[dU2CS,RED,false]]
};

const specs=[
 {p:'a',box:[88,161,701,408],xr:[0,0.45],yr:[-496,4469],xl:aXMain,yl:aYMain,main:true,boxes:aBoxes},
 {p:'a',box:[62.5,16.6,372.8,136.6],xr:[0.00084,0.039],yr:[1977,3328],xl:aX1,yl:aY1},
 {p:'a',box:[414.6,16.6,718,134.3],xr:[0.1478,0.2026],yr:[3398,4050],xl:aX2,yl:aY2},
 {p:'a',box:[61,447,371,569],xr:[0.2932,0.3297],yr:[1671,2242],xl:aX3,yl:aY3},
 {p:'a',box:[412.7,446,717.6,569],xr:[0.3983,0.437],yr:[1839,2051],xl:aX4,yl:aY4},
 {p:'b',box:[920,161,1530,404.6],xr:[0,0.45],yr:[50.01028,50.06546],xl:aXMain,yl:bYMain,main:true,boxes:bBoxes,band:2.6},
 {p:'b',box:[902.5,18.7,1201.4,136.6],xr:[0.00018,0.0274],yr:[50.02654,50.03837],xl:bX1,yl:bY1,band:6},
 {p:'b',box:[1258.2,20.1,1544.9,134.1],xr:[0.14802,0.1785],yr:[50.03856,50.0462],xl:bX2,yl:bY2,band:9.5},
 {p:'b',box:[902.5,450.7,1200.4,570.3],xr:[0.298,0.325],yr:[50.015,50.02313],xl:bX3,yl:bY3,band:9},
 {p:'b',box:[1254.3,454.2,1541,565.9],xr:[0.3746,0.40499],yr:[50.01902,50.022],xl:bX4,yl:bY4,band:20},
 {p:'c',box:[82.7,831,703,1076],xr:[0,0.45],yr:[-51.6,452.7],xl:aXMain,yl:cYMain,main:true,boxes:cBoxes,smooth:true},
 {p:'c',box:[49.5,685.2,364.6,804.2],xr:[0.00197,0.0521],yr:[174.5,459],xl:cX1,yl:cY1,smooth:true},
 {p:'c',box:[405,685.2,717.6,804.2],xr:[0.14887,0.20627],yr:[330.1,414.6],xl:cX2,yl:cY2,smooth:true},
 {p:'c',box:[48,1121.3,358,1243.6],xr:[0.3,0.3503],yr:[118,192.1],xl:cX3,yl:cY3,smooth:true},
 {p:'c',box:[393.5,1121.3,717.6,1243.6],xr:[0.39606,0.44526],yr:[135.3,177.9],xl:cX4,yl:cY4,smooth:true},
 {p:'d',box:[943.2,832,1534.6,1076.3],xr:[0,0.45],yr:[311.11811,311.13353],xl:aXMain,yl:dYMain,main:true,boxes:dBoxes},
 {p:'d',box:[918.7,685.2,1201.9,802.8],xr:[0.00142,0.04241],yr:[311.12848,311.13197],xl:dX1,yl:dY1},
 {p:'d',box:[1263.1,685.2,1538.5,804.9],xr:[0.132,0.18],yr:[311.13,311.13221],xl:dX2,yl:dY2},
 {p:'d',box:[938.3,1121.3,1202.9,1244.2],xr:[0.00495,0.0618],yr:[311.12215,311.12491],xl:dX3,yl:dY3},
 {p:'d',box:[1272.4,1121.3,1548.3,1245.2],xr:[0.28973,0.35776],yr:[311.12285,311.12682],xl:dX4,yl:dY4}
];

const wrap=document.getElementById('wrap');
specs.forEach(s=>{
  const [l,t,r,b]=s.box, padL=95, padT=14, padR=26, padB=40;
  const w=Math.round(r-l+padL+padR), h=Math.round(b-t+padT+padB);
  const cv=document.createElement('canvas');
  cv.width=w; cv.height=h;
  cv.style.left=(l-padL)+'px'; cv.style.top=(t-padT)+'px';
  wrap.appendChild(cv);
  const dsets=series[s.p].map(([arr,col,dash])=>{
    const d={data:pts(arr),borderColor:col,borderWidth:dash?1.4:(s.main?1.4:1.5),borderDash:dash?[6,4]:[],
      pointRadius:0,fill:false,tension:0,clip:0,spanGaps:true};
    if(s.smooth) d.cubicInterpolationMode='monotone';
    if(s.p==='d'&&dash) d.cubicInterpolationMode='monotone';
    if(s.band&&!dash){
      d.borderWidth=s.band; d.borderJoinStyle='round';
      const thin=1.6;
      d.segment={borderWidth:c=>inTransient(c.p0.parsed.x*1000)?thin:s.band};
    }
    return d;
  });
  new Chart(cv,{type:'line',data:{datasets:dsets},
    options:{responsive:false,animation:false,devicePixelRatio:2.5,events:[],
      layout:{padding:{top:padT,right:padR,left:0,bottom:0}},
      plugins:{legend:{display:false},tooltip:{enabled:false},frame:{boxes:s.boxes||[]}},
      scales:{
        x:{type:'linear',min:s.xr[0],max:s.xr[1],grid:{display:false,drawTicks:false},border:{display:false},
           afterBuildTicks:sc=>{sc.ticks=s.xl.map(v=>({value:+v}));},
           afterFit:sc=>{sc.height=padB;},
           ticks:{autoSkip:false,maxRotation:0,minRotation:0,padding:s.main?5.5:4,font:{family:"'Liberation Serif',serif",size:17.5},callback:(v,i)=>s.xl[i]}},
        y:{type:'linear',min:s.yr[0],max:s.yr[1],grid:{display:false,drawTicks:false},border:{display:false},
           afterBuildTicks:sc=>{sc.ticks=s.yl.map(v=>({value:+v}));},
           afterFit:sc=>{sc.width=padL;},
           ticks:{autoSkip:false,padding:4.5,font:{family:"'Liberation Serif',serif",size:17.5},callback:(v,i)=>s.yl[i]}}
      }},
    plugins:[framePlugin]});
});

// ---------------- overlay: legends, arrows, texts ----------------
const NS='http://www.w3.org/2000/svg';
let svg='<svg id="ov" xmlns="'+NS+'" width="1560" height="1344" viewBox="0 0 1560 1344" font-family="Liberation Serif, Times New Roman, serif">';
function arrow(x1,y1,x2,y2,dash){
  const an=Math.atan2(y2-y1,x2-x1), L=8, Wd=3.2, c=Math.cos(an), s=Math.sin(an);
  const bx=x2-L*c, by=y2-L*s;
  svg+='<line x1="'+x1+'" y1="'+y1+'" x2="'+bx+'" y2="'+by+'" stroke="#000" stroke-width="1.2" stroke-dasharray="'+(dash||'4 3')+'"/>';
  svg+='<polygon points="'+x2+','+y2+' '+(bx+Wd*s)+','+(by-Wd*c)+' '+(bx-Wd*s)+','+(by+Wd*c)+'" fill="#000"/>';
}
function leg(x1,x2,y,col,dash,letter,sub,tx){
  svg+='<line x1="'+x1+'" y1="'+y+'" x2="'+x2+'" y2="'+y+'" stroke="'+col+'" stroke-width="2.2"'+(dash?' stroke-dasharray="6 4"':'')+'/>';
  svg+='<text x="'+tx+'" y="'+(y+6)+'" font-size="19" font-style="italic" fill="#111">'+letter+'<tspan font-size="13" dy="4">'+sub+'</tspan></text>';
}
function legend(L,rows){
  const [m1,m2,b1,b2,tx1,tx2]=rows;
  leg(m1,m2,L[0],MAG,true,L[2],'1VI',tx1); leg(b1,b2,L[0],BLU,false,L[2],'1CS',tx2);
  leg(m1,m2,L[1],GRN,true,L[2],'2VI',tx1); leg(b1,b2,L[1],RED,false,L[2],'2CS',tx2);
}
legend([184.6,211.1,'P'],[539,582,616,660,584,661]);
legend([184.9,214.4,'f'],[1369,1413.6,1445.4,1489.5,1416,1492]);
legend([853.8,883.2,'Q'],[534,577,617,660,579,661]);
legend([850,879.4,'U'],[1364.5,1408.7,1448,1494.4,1410,1496]);
// annotation in (a)
[['the traditional',554,245.5],['VIDC strategy',554,263.5],['the CSSPCC',651,245.5],['strategy',650,263.5]].forEach(t=>{
  svg+='<text x="'+t[1]+'" y="'+t[2]+'" font-size="14.5" text-anchor="middle" fill="#111">'+t[0]+'</text>';});
arrow(603.7,220,592.6,234.3,'3 2'); arrow(683,220,666,233.3,'3 2');
// zoom arrows
const zoomArrows=[[116,219.5,195,137],[337,180.6,414.6,134.5],[491.6,297,371.3,445.4],[661,295,673.4,446],
 [949.5,275,1023,137.3],[1174.4,247.6,1277.8,136],[1323,384,1156.3,449.2],[1493,367,1501.8,452.2],
 [115.4,877.5,192.4,806.3],[347.3,849,413.7,807],[496.4,996.5,359.8,1118.5],[655,987,674.4,1120],
 [974,863.7,1016.7,805],[1173.5,852.8,1276.3,807],[1029.9,1017.3,1053.4,1119.3],[1406.2,999,1443,1119.3]];
zoomArrows.forEach(a=>arrow(a[0],a[1],a[2],a[3]));
svg+='</svg>';
wrap.insertAdjacentHTML('beforeend',svg);

// axis titles and captions
const html=[
 ['ytl',31,266,'<i>P</i><sub style="font-size:14px"><i>m</i></sub>/W'],
 ['ytl',860,280,'<i>f</i><sub style="font-size:14px"><i>m</i></sub>/Hz'],
 ['ytl',33,952,'<i>Q</i><sub style="font-size:14px"><i>m</i></sub>/var'],
 ['ytl',860,940,'<i>U</i><sub style="font-size:14px"><i>m</i></sub>/V'],
 ['ttl',397,441,'<i>t</i>/s'],['ttl',1226,441,'<i>t</i>/s'],['ttl',397,1112,'<i>t</i>/s'],['ttl',1225,1115,'<i>t</i>/s'],
 ['cap',369.4,647,'(<b>a</b>)'],['cap',1198,646,'(<b>b</b>)'],['cap',369.4,1320,'(<b>c</b>)'],['cap',1198,1320,'(<b>d</b>)']
];
html.forEach(h=>{const d=document.createElement('div');d.className=h[0];d.style.left=h[1]+'px';d.style.top=h[2]+'px';d.innerHTML=h[3];wrap.appendChild(d);});
</script>
</body></html>
